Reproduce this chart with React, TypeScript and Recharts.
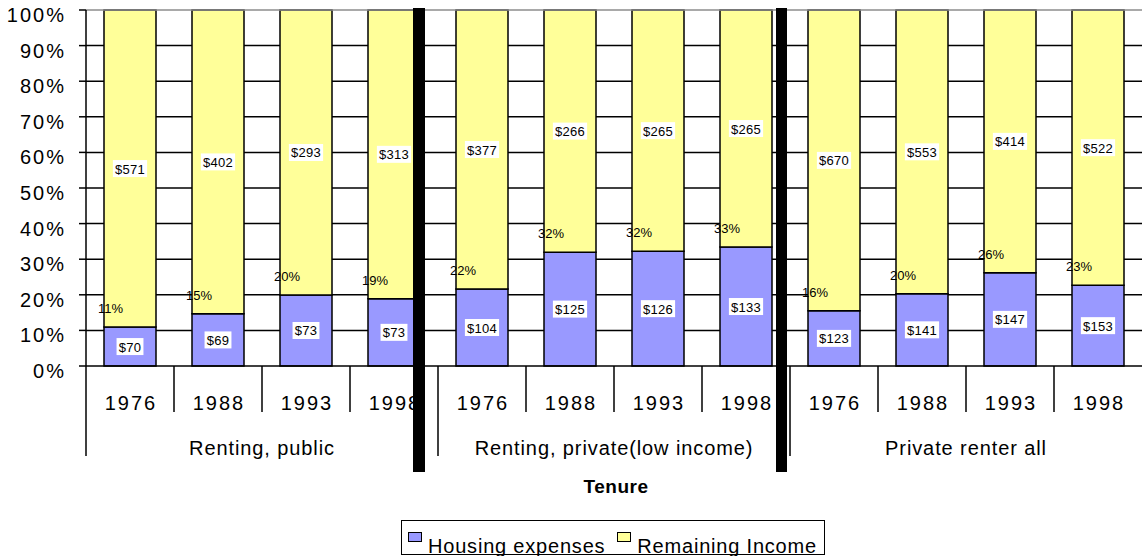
import { BarChart, Bar, XAxis, YAxis, CartesianGrid, ReferenceLine, LabelList, Legend } from "recharts"

const groups = ["Renting, public", "Renting, private(low income)", "Private renter all"]
const years = ["1976", "1988", "1993", "1998"]
const housingExpenses = [70, 69, 73, 73, 104, 125, 126, 133, 123, 141, 147, 153]
const remainingIncome = [571, 402, 293, 313, 377, 266, 265, 265, 670, 553, 414, 522]
const yTicks = [0, 0.1, 0.2, 0.3, 0.4, 0.5, 0.6, 0.7, 0.8, 0.9, 1]

const rows = housingExpenses.map((h, i) => ({
  key: `${groups[Math.floor(i / years.length)]} ${years[i % years.length]}`,
  group: groups[Math.floor(i / years.length)],
  year: years[i % years.length],
  housing: h,
  remaining: remainingIncome[i],
  pct: Math.round((h / (h + remainingIncome[i])) * 100),
}))

const W = 1142
const H = 556
const PLOT_TOP = 10
const PLOT_LEFT = 86
const PLOT_BOTTOM = 366
const X_AXIS_H = 150
const band = (W - PLOT_LEFT) / rows.length
const FONT = "Arial, 'Liberation Sans', Helvetica, sans-serif"

const YTick = (props: any) => {
  const { x, y, payload } = props
  return (
    <text x={x + 1} y={y + 12} textAnchor="end" fontFamily={FONT} fontSize={20} letterSpacing={2} fill="#000">
      {Math.round(payload.value * 100)}%
    </text>
  )
}

const CategoryTick = (props: any) => {
  const { x, payload } = props
  const i = props.index ?? payload.index
  const row = rows[i]
  if (!row) return null
  const left = x - band / 2
  const groupStart = i % years.length === 0
  return (
    <g>
      <line x1={left} x2={left} y1={PLOT_BOTTOM} y2={PLOT_BOTTOM + (groupStart ? 90 : 46)} stroke="#000" strokeWidth={1.5} />
      <text x={x + 1} y={PLOT_BOTTOM + 44} textAnchor="middle" fontFamily={FONT} fontSize={20} letterSpacing={2} fill="#000">
        {row.year}
      </text>
      {groupStart && (
        <text x={left + (band * years.length) / 2} y={PLOT_BOTTOM + 89} textAnchor="middle" fontFamily={FONT} fontSize={20} letterSpacing={0.9} fill="#000">
          {row.group}
        </text>
      )}
    </g>
  )
}

const MoneyLabel = (props: any) => {
  const vb = props.viewBox ?? props
  const text = `$${props.value}`
  const w = text.length * 7.3 + 5
  const cx = vb.x + vb.width / 2
  const cy = vb.y + vb.height / 2
  return (
    <g>
      <rect x={cx - w / 2} y={cy - 8.5} width={w} height={17} fill="#fff" />
      <text x={cx} y={cy + 5} textAnchor="middle" fontFamily={FONT} fontSize={13} letterSpacing={0.3} fill="#000">
        {text}
      </text>
    </g>
  )
}

// percentage sits just above the housing segment, drawn from the remaining segment's bottom edge
const PctLabel = (props: any) => {
  const vb = props.viewBox ?? props
  const boundary = vb.y + vb.height
  return (
    <text x={vb.x - 6} y={boundary - 14} textAnchor="start" fontFamily={FONT} fontSize={13} fill="#000">
      {props.value}%
    </text>
  )
}

const TenureLabel = (props: any) => {
  const vb = props.viewBox
  return (
    <text x={vb.x + vb.width / 2 + 2} y={vb.y + 127} textAnchor="middle" fontFamily={FONT} fontSize={19} fontWeight="bold" letterSpacing={0.5} fill="#000">
      Tenure
    </text>
  )
}

const LegendBox = (props: any) => {
  const items = props.payload ?? []
  return (
    <div
      style={{
        boxSizing: "border-box",
        width: 424,
        height: 35,
        border: "1.5px solid #000",
        display: "flex",
        alignItems: "flex-start",
        paddingLeft: 6,
        fontFamily: FONT,
        fontSize: 20,
        letterSpacing: 0.8,
        color: "#000",
      }}
    >
      {items.map((it: any) => (
        <div key={it.value} style={{ display: "flex", alignItems: "flex-start", marginRight: 12 }}>
          <span
            style={{
              boxSizing: "border-box",
              width: 14,
              height: 10,
              marginTop: 11,
              marginRight: 6,
              border: "1.5px solid #000",
              background: it.color,
            }}
          />
          <span style={{ lineHeight: "20px", marginTop: 15, whiteSpace: "nowrap" }}>{it.value}</span>
        </div>
      ))}
    </div>
  )
}

export default function App() {
  return (
    <div style={{ position: "relative", width: W, height: H, background: "#fff", overflow: "hidden" }}>
      <style>{"body{margin:0}"}</style>
      <BarChart
        width={W}
        height={H}
        data={rows}
        stackOffset="expand"
        margin={{ top: PLOT_TOP, right: 0, left: 0, bottom: H - PLOT_BOTTOM - X_AXIS_H }}
      >
        <CartesianGrid horizontal vertical={false} stroke="#000" strokeWidth={1.5} horizontalValues={yTicks.slice(1, -1)} />
        <XAxis
          dataKey="key"
          interval={0}
          height={X_AXIS_H}
          tickLine={false}
          axisLine={{ stroke: "#000", strokeWidth: 1.5 }}
          tick={<CategoryTick />}
          label={<TenureLabel />}
        />
        <YAxis
          type="number"
          domain={[0, 1]}
          ticks={yTicks}
          width={PLOT_LEFT}
          tickSize={7}
          tickMargin={14}
          axisLine={{ stroke: "#000", strokeWidth: 1.5 }}
          tickLine={{ stroke: "#000", strokeWidth: 1.5 }}
          tick={<YTick />}
        />
        <ReferenceLine y={1} stroke="#8c8c8c" strokeWidth={1.5} />
        <Bar dataKey="housing" name="Housing expenses" stackId="s" fill="#9999ff" stroke="#000" strokeWidth={1.5} barSize={52} isAnimationActive={false}>
          <LabelList dataKey="housing" content={<MoneyLabel />} />
        </Bar>
        <Bar dataKey="remaining" name="Remaining Income" stackId="s" fill="#ffff99" stroke="#000" strokeWidth={1.5} barSize={52} isAnimationActive={false}>
          <LabelList dataKey="remaining" content={<MoneyLabel />} />
          <LabelList dataKey="pct" content={<PctLabel />} />
        </Bar>
        <Legend
          layout="horizontal"
          verticalAlign="middle"
          align="center"
          content={<LegendBox />}
          wrapperStyle={{ left: 401, top: 520, width: 424, height: 35 }}
        />
      </BarChart>
      <div style={{ position: "absolute", left: 413, top: 8, width: 12, height: 464, background: "#000" }} />
      <div style={{ position: "absolute", left: 776, top: 8, width: 11, height: 464, background: "#000" }} />
    </div>
  )
}
